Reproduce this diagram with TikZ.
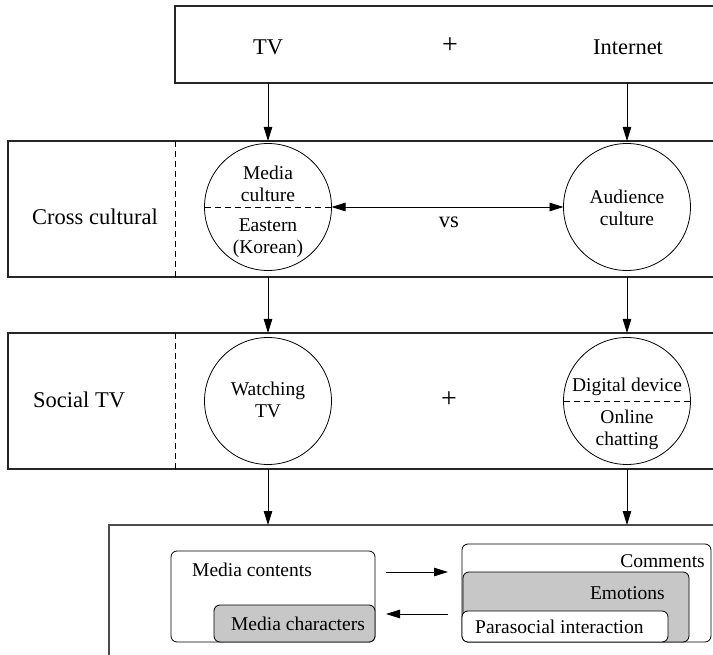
\documentclass[tikz,border=0pt]{standalone}
\usepackage{fontspec}
\setmainfont{LiberationSerif}[Extension=.ttf, UprightFont=*-Regular, BoldFont=*-Bold]
\usetikzlibrary{arrows.meta,calc}

\tikzset{
  x=1pt, y=-1pt,
  band/.style={draw=black!85, line width=1.1pt, anchor=north west, inner sep=0pt, outer sep=0pt},
  bubble/.style={circle, draw=black, line width=0.8pt, minimum size=127pt, inner sep=0pt, outer sep=0pt},
  rbox/.style={draw=black, line width=0.8pt, rounded corners=6pt, anchor=north west, inner sep=0pt, outer sep=0pt},
  big/.style={font=\fontsize{22.5pt}{26pt}\selectfont, inner sep=0pt},
  plussign/.style={font=\fontsize{28pt}{30pt}\selectfont, inner sep=0pt},
  small/.style={font=\fontsize{19.5pt}{22.5pt}\selectfont, inner sep=0pt, align=center},
  arr/.style={line width=0.9pt, -{Triangle[length=14pt,width=8.5pt]}},
  arrboth/.style={line width=0.9pt, {Triangle[length=14pt,width=8.5pt]}-{Triangle[length=14pt,width=8.5pt]}},
  sep/.style={line width=0.8pt, dash pattern=on 6pt off 4pt},
}

\begin{document}
\begin{tikzpicture}
\useasboundingbox (0,0) rectangle (713,655);
\clip (0,0) rectangle (713,655);
\fill[white] (0,0) rectangle (713,655);

% ---- top band: media ----
\node[band, minimum width=560pt, minimum height=77pt] (top) at (175,6) {};
\node[big] (tv) at (268,47) {TV};
\node[plussign] (plus1) at (450,46) {+};
\node[big] (net) at (628,47) {Internet};

% ---- cross cultural band ----
\node[band, minimum width=720pt, minimum height=136pt] (cross) at (8,141) {};
\coordinate (d1) at (175,141);
\draw[sep] (d1) -- (d1 |- cross.south);
\node[big, anchor=west] (crosslbl) at (32,217) {Cross cultural};

\node[bubble] (mc) at (268,207) {};
\draw[sep] (mc.west) -- (mc.east);
\node[small] (mctop) at (268,184) {Media\\culture};
\node[small] (mcbot) at (268,238) {Eastern\\(Korean)};

\node[bubble] (ac) at (627,207) {};
\node[small] (actxt) at (627,208) {Audience\\culture};

\draw[arrboth] (mc.east) -- (ac.west);
\node[big] (vs) at (449,222) {vs};

% ---- social TV band ----
\node[band, minimum width=720pt, minimum height=136pt] (social) at (8,333) {};
\coordinate (d2) at (175,333);
\draw[sep] (d2) -- (d2 |- social.south);
\node[big, anchor=west] (sociallbl) at (33,400) {Social TV};

\node[bubble] (wt) at (268,401) {};
\node[small] (wttxt) at (268,400) {Watching\\TV};
\node[plussign] (plus2) at (449,400) {+};

\node[bubble] (dd) at (627,401) {};
\draw[sep] (dd.west) -- (dd.east);
\node[small] (ddtop) at (627,387) {Digital device};
\node[small] (ddbot) at (627,430) {Online\\chatting};

% ---- bottom band ----
\node[band, draw=black!70, minimum width=640pt, minimum height=160pt] (bottom) at (109,525) {};

\node[rbox, fill=white, minimum width=204pt, minimum height=91pt] (mcont) at (171,551) {};
\node[small, anchor=west] (mconttxt) at (192,570) {Media contents};
\node[rbox, fill=black!22, minimum width=161pt, minimum height=37pt] (mchar) at (214,605) {};
\node[small] (mchartxt) at (298,624) {Media characters};

\node[rbox, fill=white, minimum width=249pt, minimum height=98pt] (comm) at (462,544) {};
\node[small, anchor=east] (commtxt) at (705,561) {Comments};
\node[rbox, fill=black!22, minimum width=226pt, minimum height=70pt] (emo) at (463,572) {};
\node[small, anchor=east] (emotxt) at (665,593) {Emotions};
\node[rbox, fill=white, minimum width=206pt, minimum height=31pt] (psi) at (462,611) {};
\node[small, anchor=west] (psitxt) at (475,627) {Parasocial interaction};

% ---- flow between bands ----
\draw[arr] (top.south -| tv) -- (cross.north -| tv);
\draw[arr] (top.south -| ac) -- (cross.north -| ac);
\draw[arr] (cross.south -| mc) -- (social.north -| mc);
\draw[arr] (cross.south -| ac) -- (social.north -| ac);
\draw[arr] (social.south -| mc) -- (bottom.north -| mc);
\draw[arr] (social.south -| ac) -- (bottom.north -| ac);

% ---- exchange between contents and comments ----
\coordinate (fwdA) at ($(mcont.east)+(11,0)$);
\coordinate (fwdB) at ($(comm.west)+(-14,0)$);
\draw[arr] (fwdA |- 0,572) -- (fwdB |- 0,572);
\draw[arr] (fwdB |- 0,614) -- (fwdA |- 0,614);
\end{tikzpicture}
\end{document}
